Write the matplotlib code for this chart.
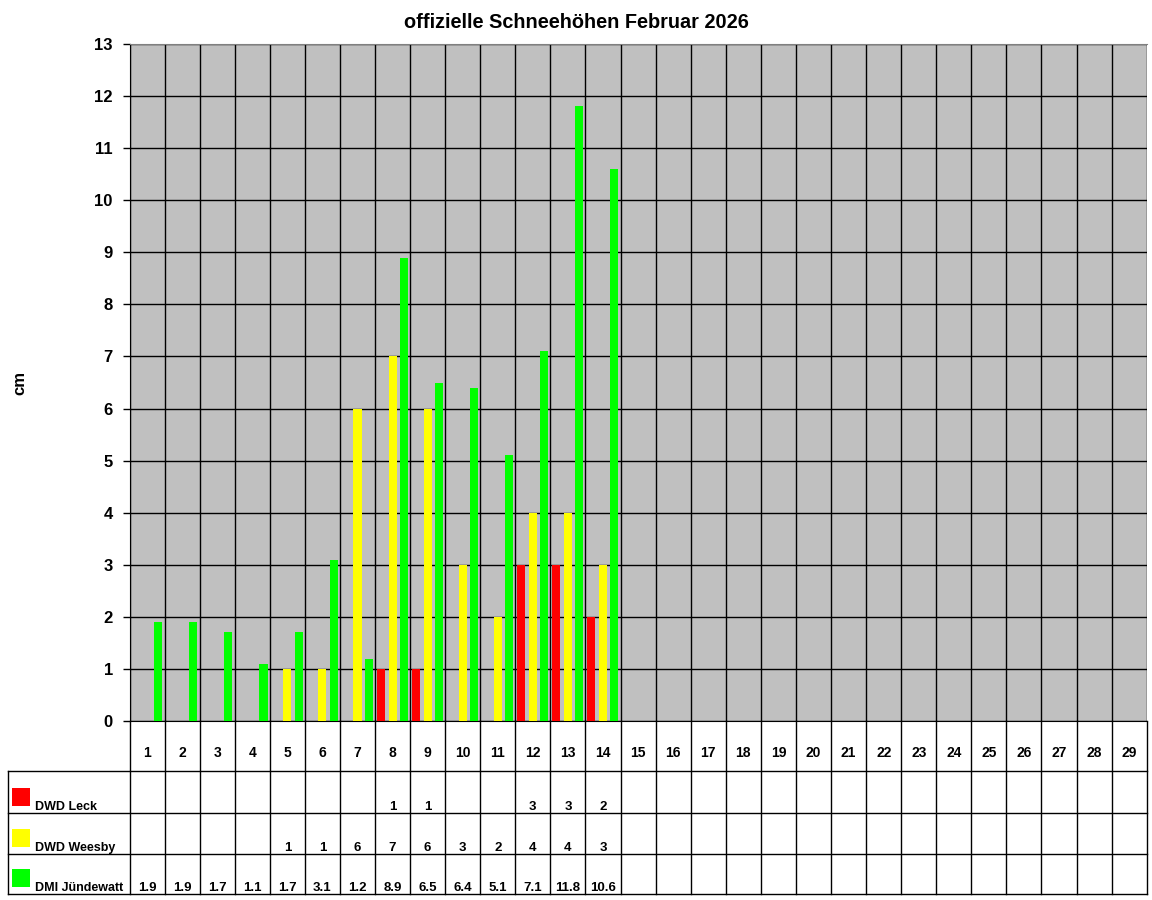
import numpy as np
import matplotlib.pyplot as plt
from matplotlib.patches import Rectangle

plt.rcParams['font.family'] = ['Liberation Sans', 'DejaVu Sans']
plt.rcParams['font.weight'] = 'bold'

tage = list(range(1, 30))
namen = ["DWD Leck", "DWD Weesby", "DMI Jündewatt"]
farben = ["#FF0000", "#FFFF00", "#00FF00"]
nan = np.nan
leck = [nan]*7 + [1, 1, nan, nan, 3, 3, 2] + [nan]*15
weesby = [nan]*4 + [1, 1, 6, 7, 6, 3, 2, 4, 4, 3] + [nan]*15
dmi = [1.9, 1.9, 1.7, 1.1, 1.7, 3.1, 1.2, 8.9, 6.5, 6.4, 5.1, 7.1, 11.8, 10.6] + [nan]*15
reihen = [leck, weesby, dmi]

W, H = 1152, 900
fig = plt.figure(figsize=(W/100, H/100), dpi=100)

# Diagrammflaeche in Pixeln
L, R, T, B = 129.5, 1146.7, 44, 721
ax = fig.add_axes([L/W, 1-B/H, (R-L)/W, (B-T)/H])
ax.set_facecolor("#C0C0C0")
x = np.array(tage)
versatz = [-0.33, 0.0, 0.32]
for werte, farbe, dx in zip(reihen, farben, versatz):
    ax.bar(x + dx, np.array(werte, dtype=float), 0.23, color=farbe, zorder=3)

ax.set_xlim(0.5, 29.5)
ax.set_ylim(0, 13)
ax.set_yticks(range(0, 14))
ax.set_yticklabels([str(i) for i in range(0, 14)], fontsize=12)
ax.set_xticks(np.arange(0.5, 30, 1))
ax.set_xticklabels([])
ax.tick_params(axis='x', length=0)
ax.tick_params(axis='y', length=5, width=1, pad=7, direction='out')
ax.grid(True, color='black', lw=1, zorder=1)
ax.set_axisbelow(True)
ax.spines['top'].set_color('#808080')
ax.spines['right'].set_visible(False)
ax.spines['left'].set_color('black')
ax.spines['bottom'].set_color('black')

fig.text(0.5, 1-22/H, "offizielle Schneehöhen Februar 2026", ha='center', va='center', fontsize=14.3)
fig.text(20/W, 1-383/H, "cm", rotation=90, ha='center', va='center', fontsize=12)

# Datentabelle unter dem Diagramm
TL, TB = 8, 894
tab = fig.add_axes([TL/W, 1-TB/H, (R-TL)/W, (TB-B)/H])
skala = (R-L)/29
x0 = 0.5 - (L-TL)/skala
tab.set_xlim(x0, 29.5)
tab.set_ylim(TB, B)
tab.axis('off')

def px(p):
    return x0 + (p-TL)/skala

zeilen = [770.5, 813, 854, 894]
for g in np.arange(0.5, 30, 1):
    tab.plot([g, g], [B, TB], color='black', lw=1, clip_on=False)
tab.plot([x0, x0], [zeilen[0], TB], color='black', lw=1, clip_on=False)
for y in zeilen:
    tab.plot([x0, 29.5], [y, y], color='black', lw=1, clip_on=False)

for t in tage:
    tab.text(t, 753, str(t), ha='center', va='center', fontsize=10)

for i, (name, farbe, werte) in enumerate(zip(namen, farben, reihen)):
    unten = zeilen[i+1]
    tab.add_patch(Rectangle((px(12), unten-25), px(30)-px(12), 18, color=farbe, lw=0))
    tab.text(px(35), unten-3.5, name, ha='left', va='baseline', fontsize=9)
    for t, v in zip(tage, werte):
        if not np.isnan(v):
            tab.text(t, unten-3.5, f"{v:g}", ha='center', va='baseline', fontsize=9.5)

fig.savefig("out.png", dpi=100)
